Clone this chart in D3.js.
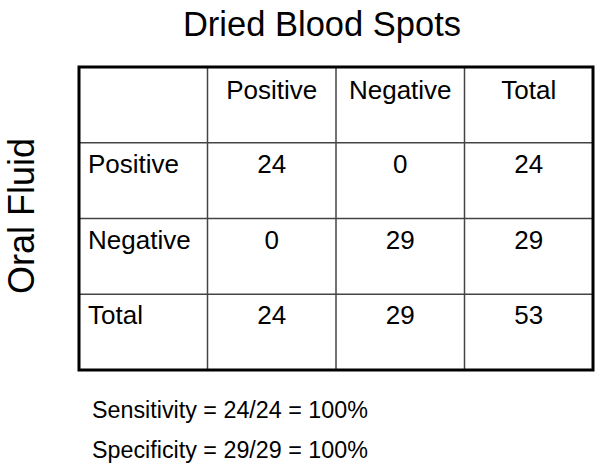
<html>
<head>
<style>
  body { margin: 0; background: #fff; }
  text { font-family: "Liberation Sans", Arial, sans-serif; fill: #000; }
  .grid { stroke: #444; stroke-width: 1.5; }
  .frame { stroke: #000; stroke-width: 3; fill: none; }
</style>
</head>
<body>
<script src="https://d3js.org/d3.v7.min.js"></script>
<script>
// table content
var colLabels = ["", "Positive", "Negative", "Total"];
var rowLabels = ["", "Positive", "Negative", "Total"];
var cellValues = [
  [24, 0, 24],
  [0, 29, 29],
  [24, 29, 53]
];
var notes = ["Sensitivity = 24/24 = 100%", "Specificity = 29/29 = 100%"];

var width = 600, height = 470;
var svg = d3.select("body").append("svg")
    .attr("width", width)
    .attr("height", height);

// column / row positions
var x = d3.scaleBand().domain(d3.range(colLabels.length)).range([79, 593]);
var y = d3.scaleBand().domain(d3.range(rowLabels.length)).range([67, 370]);

// title
svg.append("text")
    .attr("x", 322).attr("y", 36)
    .attr("text-anchor", "middle")
    .style("font-size", "34.5px")
    .text("Dried Blood Spots");

// side label
svg.append("text")
    .attr("transform", "translate(34,216) rotate(-90)")
    .attr("text-anchor", "middle")
    .style("font-size", "36px")
    .text("Oral Fluid");

// inner grid lines
svg.selectAll("line.v").data(d3.range(1, colLabels.length)).enter()
  .append("line").attr("class", "grid v")
    .attr("x1", function(d){ return x(d); }).attr("x2", function(d){ return x(d); })
    .attr("y1", y.range()[0]).attr("y2", y.range()[1]);
svg.selectAll("line.h").data(d3.range(1, rowLabels.length)).enter()
  .append("line").attr("class", "grid h")
    .attr("y1", function(d){ return y(d); }).attr("y2", function(d){ return y(d); })
    .attr("x1", x.range()[0]).attr("x2", x.range()[1]);

// outer frame
svg.append("rect").attr("class", "frame")
    .attr("x", x.range()[0]).attr("y", y.range()[0])
    .attr("width", x.range()[1] - x.range()[0])
    .attr("height", y.range()[1] - y.range()[0]);

// column headers
svg.selectAll("text.col").data(colLabels.slice(1)).enter()
  .append("text").attr("class", "col")
    .attr("x", function(d, i){ return x(i + 1) + x.bandwidth() / 2; })
    .attr("y", y(0) + 32)
    .attr("text-anchor", "middle")
    .style("font-size", "26px")
    .text(function(d){ return d; });

// row headers
svg.selectAll("text.row").data(rowLabels.slice(1)).enter()
  .append("text").attr("class", "row")
    .attr("x", x(0) + 9)
    .attr("y", function(d, i){ return y(i + 1) + 30; })
    .style("font-size", "26px")
    .text(function(d){ return d; });

// cell values
cellValues.forEach(function(row, r){
  svg.selectAll("text.r" + r).data(row).enter()
    .append("text").attr("class", "r" + r)
      .attr("x", function(d, c){ return x(c + 1) + x.bandwidth() / 2; })
      .attr("y", y(r + 1) + 30)
      .attr("text-anchor", "middle")
      .style("font-size", "26px")
      .text(function(d){ return d; });
});

// sensitivity / specificity
svg.selectAll("text.note").data(notes).enter()
  .append("text").attr("class", "note")
    .attr("x", 92)
    .attr("y", function(d, i){ return 418 + i * 40; })
    .style("font-size", "23.3px")
    .text(function(d){ return d; });
</script>
</body>
</html>
